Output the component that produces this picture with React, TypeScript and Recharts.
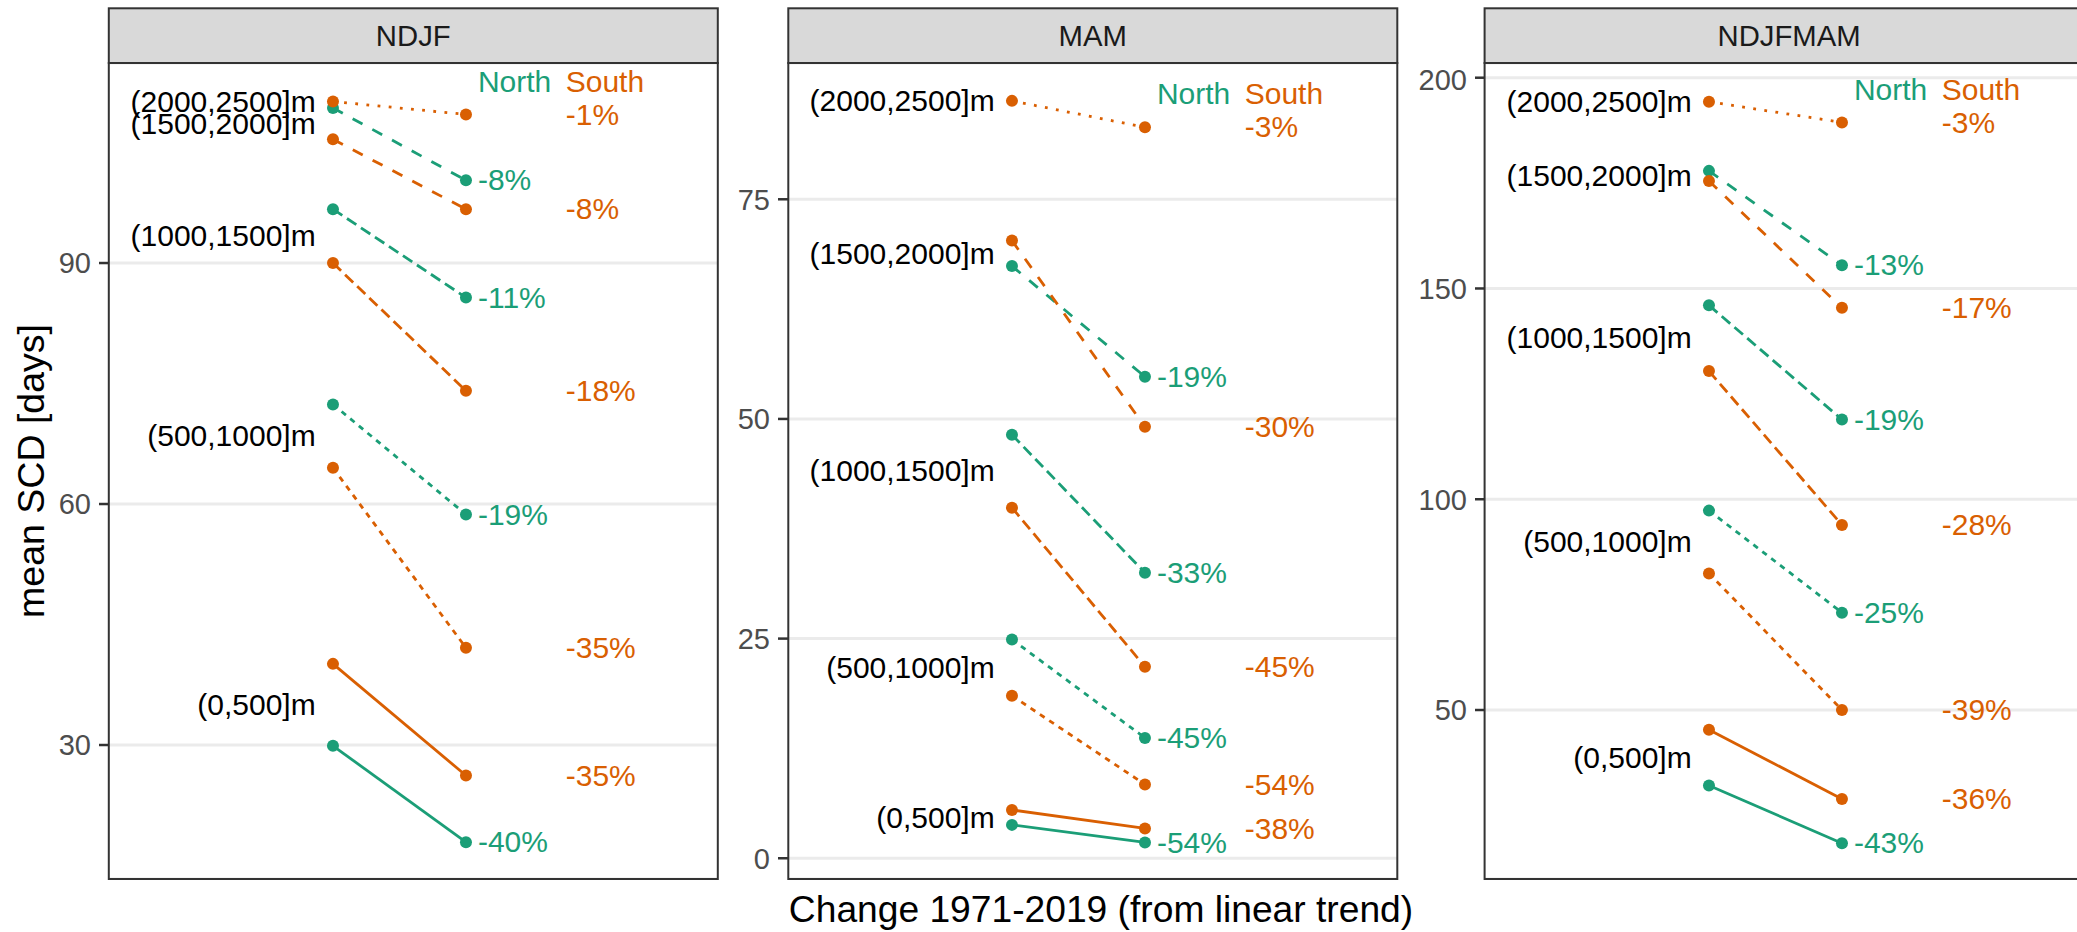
import { ComposedChart, Line, Scatter, XAxis, YAxis, CartesianGrid } from 'recharts';

const ELEVATIONS = ['(0,500]m', '(500,1000]m', '(1000,1500]m', '(1500,2000]m', '(2000,2500]m'];
const SEASONS = ['NDJF', 'MAM', 'NDJFMAM'];

// mean SCD [days], first and last year of the linear trend
const NDJF_NORTH_START = [29.9, 72.4, 96.7, 109.3, null];
const NDJF_NORTH_END = [17.9, 58.7, 85.7, 100.3, null];
const NDJF_SOUTH_START = [40.1, 64.5, 90.0, 105.4, 110.1];
const NDJF_SOUTH_END = [26.2, 42.1, 74.1, 96.7, 108.5];
const NDJF_NORTH_PCT = ['-40%', '-19%', '-11%', '-8%', null];
const NDJF_SOUTH_PCT = ['-35%', '-35%', '-18%', '-8%', '-1%'];

const MAM_NORTH_START = [3.8, 24.9, 48.2, 67.4, null];
const MAM_NORTH_END = [1.8, 13.7, 32.5, 54.8, null];
const MAM_SOUTH_START = [5.5, 18.5, 39.9, 70.3, 86.2];
const MAM_SOUTH_END = [3.4, 8.4, 21.8, 49.1, 83.2];
const MAM_NORTH_PCT = ['-54%', '-45%', '-33%', '-19%', null];
const MAM_SOUTH_PCT = ['-38%', '-54%', '-45%', '-30%', '-3%'];

const ALL_NORTH_START = [32.1, 97.3, 146.0, 177.9, null];
const ALL_NORTH_END = [18.4, 73.1, 118.9, 155.5, null];
const ALL_SOUTH_START = [45.3, 82.4, 130.4, 175.5, 194.3];
const ALL_SOUTH_END = [28.9, 50.0, 93.9, 145.4, 189.4];
const ALL_NORTH_PCT = ['-43%', '-25%', '-19%', '-13%', null];
const ALL_SOUTH_PCT = ['-36%', '-39%', '-28%', '-17%', '-3%'];

const NDJF_TICKS = [30, 60, 90];
const MAM_TICKS = [0, 25, 50, 75];
const ALL_TICKS = [50, 100, 150, 200];

const NDJF_DOMAIN = [13.32, 114.9];
const MAM_DOMAIN = [-2.36, 90.51];
const ALL_DOMAIN = [9.91, 203.49];

const HEADER_Y = [112.6, 87.0, 197.2];

// layout
const FONT = '"Liberation Sans", Arial, Helvetica, sans-serif';
const N_COLOR = '#1B9E77';
const S_COLOR = '#D95F02';
const DASHES = [undefined, '5.6 5.6', '11.2 5.6', '11.2 11.2', '2.8 8.4'];
const PANEL_LEFT = [108.8, 788.3, 1484.6];
const PANEL_TOP = 63;
const PANEL_W = 609;
const PANEL_H = 816;
const STRIP_TOP = 8.3;
const AXIS_W = 100;
const X_DOMAIN = [-0.684, 3.895];
const LABEL_X = 0.87;
const NORTH_X = 2.09;
const SOUTH_X = 2.75;

const textShape = (color: string, anchor: string) => (props: any) => {
  const { cx, cy, payload } = props;
  if (cx == null || cy == null) return null;
  return (
    <text x={cx} y={cy} dy="0.34em" textAnchor={anchor} fill={color} fontSize={30} fontFamily={FONT}>
      {payload.text}
    </text>
  );
};

function Panel({ idx, northStart, northEnd, southStart, southEnd, northPct, southPct, ticks, domain }: any) {
  const elevLabels = ELEVATIONS.map((e, i) => ({
    x: LABEL_X,
    y: northStart[i] == null ? southStart[i] : (northStart[i] + southStart[i]) / 2,
    text: e,
  }));
  const northLabels = northPct
    .map((t: string | null, i: number) => (t ? { x: NORTH_X, y: northEnd[i], text: t } : null))
    .filter(Boolean);
  const southLabels = southPct.map((t: string, i: number) => ({ x: SOUTH_X, y: southEnd[i], text: t }));

  return (
    <div style={{ position: 'absolute', left: PANEL_LEFT[idx] - AXIS_W, top: PANEL_TOP }}>
      <ComposedChart width={PANEL_W + AXIS_W} height={PANEL_H} margin={{ top: 0, right: 0, bottom: 0, left: 0 }}>
        <CartesianGrid vertical={false} stroke="#EBEBEB" strokeWidth={3} />
        <XAxis type="number" dataKey="x" domain={X_DOMAIN} hide allowDataOverflow />
        <YAxis
          type="number"
          dataKey="y"
          width={AXIS_W}
          domain={domain}
          ticks={ticks}
          allowDataOverflow
          axisLine={false}
          tickSize={10}
          tickMargin={8}
          tickLine={{ stroke: '#333333', strokeWidth: 2.5 }}
          tick={{ fontSize: 29, fill: '#4D4D4D', fontFamily: FONT }}
        />
        {ELEVATIONS.map((e, i) =>
          northStart[i] == null ? null : (
            <Line
              key={'n' + e}
              data={[
                { x: 1, y: northStart[i] },
                { x: 2, y: northEnd[i] },
              ]}
              dataKey="y"
              stroke={N_COLOR}
              strokeWidth={2.8}
              strokeDasharray={DASHES[i]}
              dot={{ r: 6, fill: N_COLOR, stroke: N_COLOR, strokeWidth: 0 }}
              activeDot={false}
              isAnimationActive={false}
            />
          )
        )}
        {ELEVATIONS.map((e, i) => (
          <Line
            key={'s' + e}
            data={[
              { x: 1, y: southStart[i] },
              { x: 2, y: southEnd[i] },
            ]}
            dataKey="y"
            stroke={S_COLOR}
            strokeWidth={2.8}
            strokeDasharray={DASHES[i]}
            dot={{ r: 6, fill: S_COLOR, stroke: S_COLOR, strokeWidth: 0 }}
            activeDot={false}
            isAnimationActive={false}
          />
        ))}
        <Scatter data={elevLabels} dataKey="y" shape={textShape('#000000', 'end')} isAnimationActive={false} />
        <Scatter data={northLabels} dataKey="y" shape={textShape(N_COLOR, 'start')} isAnimationActive={false} />
        <Scatter data={southLabels} dataKey="y" shape={textShape(S_COLOR, 'start')} isAnimationActive={false} />
        <Scatter
          data={[{ x: NORTH_X, y: HEADER_Y[idx], text: 'North' }]}
          dataKey="y"
          shape={textShape(N_COLOR, 'start')}
          isAnimationActive={false}
        />
        <Scatter
          data={[{ x: SOUTH_X, y: HEADER_Y[idx], text: 'South' }]}
          dataKey="y"
          shape={textShape(S_COLOR, 'start')}
          isAnimationActive={false}
        />
      </ComposedChart>
    </div>
  );
}

export default function App() {
  return (
    <div
      style={{
        position: 'fixed',
        left: 0,
        top: 0,
        width: 2077,
        height: 932,
        overflow: 'hidden',
        background: '#ffffff',
        fontFamily: FONT,
      }}
    >
      <Panel
        idx={0}
        northStart={NDJF_NORTH_START}
        northEnd={NDJF_NORTH_END}
        southStart={NDJF_SOUTH_START}
        southEnd={NDJF_SOUTH_END}
        northPct={NDJF_NORTH_PCT}
        southPct={NDJF_SOUTH_PCT}
        ticks={NDJF_TICKS}
        domain={NDJF_DOMAIN}
      />
      <Panel
        idx={1}
        northStart={MAM_NORTH_START}
        northEnd={MAM_NORTH_END}
        southStart={MAM_SOUTH_START}
        southEnd={MAM_SOUTH_END}
        northPct={MAM_NORTH_PCT}
        southPct={MAM_SOUTH_PCT}
        ticks={MAM_TICKS}
        domain={MAM_DOMAIN}
      />
      <Panel
        idx={2}
        northStart={ALL_NORTH_START}
        northEnd={ALL_NORTH_END}
        southStart={ALL_SOUTH_START}
        southEnd={ALL_SOUTH_END}
        northPct={ALL_NORTH_PCT}
        southPct={ALL_SOUTH_PCT}
        ticks={ALL_TICKS}
        domain={ALL_DOMAIN}
      />
      {/* strips, panel borders, axis titles */}
      <svg width={2077} height={932} style={{ position: 'absolute', left: 0, top: 0, pointerEvents: 'none' }}>
        {SEASONS.map((s, i) => (
          <g key={s}>
            <rect
              x={PANEL_LEFT[i]}
              y={STRIP_TOP}
              width={PANEL_W}
              height={PANEL_TOP - STRIP_TOP}
              fill="#D9D9D9"
              stroke="#333333"
              strokeWidth={2}
            />
            <text
              x={PANEL_LEFT[i] + PANEL_W / 2}
              y={(STRIP_TOP + PANEL_TOP) / 2}
              dy="0.36em"
              textAnchor="middle"
              fontSize={29.3}
              fill="#1A1A1A"
              fontFamily={FONT}
            >
              {s}
            </text>
            <rect x={PANEL_LEFT[i]} y={PANEL_TOP} width={PANEL_W} height={PANEL_H} fill="none" stroke="#333333" strokeWidth={2} />
          </g>
        ))}
        <text
          transform={`translate(30, ${PANEL_TOP + PANEL_H / 2}) rotate(-90)`}
          dy="0.36em"
          textAnchor="middle"
          fontSize={37.5}
          fill="#000000"
          fontFamily={FONT}
        >
          mean SCD [days]
        </text>
        <text x={1101} y={922} textAnchor="middle" fontSize={37.2} fill="#000000" fontFamily={FONT}>
          Change 1971-2019 (from linear trend)
        </text>
      </svg>
    </div>
  );
}
